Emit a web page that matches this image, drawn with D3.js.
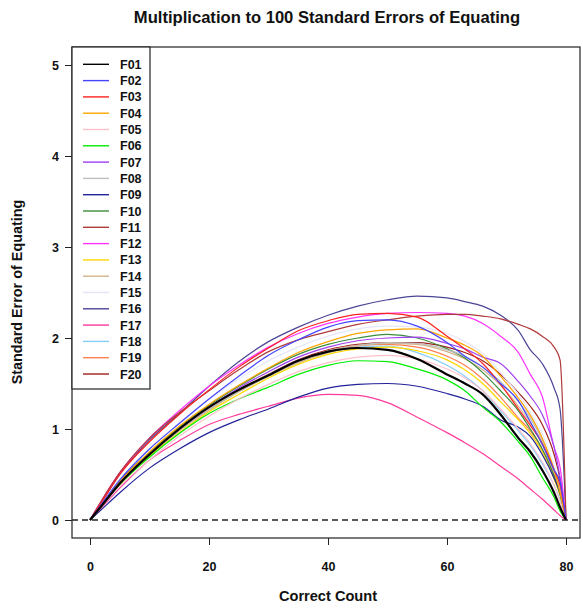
<!DOCTYPE html>
<html lang="en">
<head>
<meta charset="UTF-8" />
<title>Multiplication to 100 Standard Errors of Equating</title>
<script src="https://cdn.jsdelivr.net/npm/d3@7"></script>
<style>
    body { margin: 0; background: #fff; }
    svg text { font-family: "Liberation Sans", Arial, sans-serif; font-weight: bold; fill: #111; }
</style>
</head>
<body>
<svg id="chart" width="583" height="608"></svg>
<script>
    // correct counts at which the curves were read
    const counts = [0, 2, 5, 10, 15, 20, 25, 30, 35, 40, 45, 50, 55, 60, 63, 66, 69, 72, 74, 76, 78, 79, 80];

    const formNames = ["F01","F02","F03","F04","F05","F06","F07","F08","F09","F10",
                       "F11","F12","F13","F14","F15","F16","F17","F18","F19","F20"];

    const formColors = ["#000000","#4646ff","#ff2020","#ffa500","#ffc0cb","#00ee00","#a040f0","#bebebe","#22229a","#3c8c3c",
                        "#b03a3a","#ff33ff","#ffd700","#d2b48c","#e6e6fa","#4b4596","#ff3c9c","#87cefa","#ff7f50","#a0201c"];

    const F01 = [0,0.16,0.40,0.72,1.00,1.24,1.43,1.59,1.75,1.85,1.89,1.87,1.77,1.60,1.50,1.38,1.16,0.90,0.75,0.55,0.30,0.14,0];
    const F02 = [0,0.18,0.44,0.78,1.06,1.33,1.58,1.81,1.98,2.12,2.19,2.20,2.13,1.95,1.80,1.68,1.50,1.31,1.08,0.83,0.55,0.42,0];
    const F03 = [0,0.20,0.50,0.86,1.16,1.43,1.68,1.89,2.08,2.19,2.26,2.27,2.23,2.02,1.88,1.72,1.49,1.22,1.04,0.84,0.55,0.38,0];
    const F04 = [0,0.17,0.42,0.75,1.03,1.27,1.48,1.67,1.84,1.96,2.05,2.09,2.10,2.00,1.92,1.80,1.58,1.34,1.15,0.90,0.55,0.30,0];
    const F05 = [0,0.15,0.37,0.66,0.92,1.14,1.33,1.49,1.63,1.73,1.79,1.81,1.77,1.66,1.56,1.42,1.22,1.00,0.84,0.64,0.38,0.20,0];
    const F06 = [0,0.16,0.39,0.69,0.95,1.17,1.33,1.46,1.60,1.70,1.75,1.74,1.66,1.54,1.42,1.24,1.08,0.86,0.70,0.47,0.25,0.10,0];
    const F07 = [0,0.16,0.40,0.72,1.00,1.24,1.45,1.63,1.79,1.90,1.97,2.00,2.01,1.94,1.88,1.79,1.72,1.52,1.36,1.16,0.80,0.47,0];
    const F08 = [0,0.16,0.40,0.72,0.99,1.22,1.42,1.60,1.75,1.86,1.92,1.95,1.94,1.87,1.80,1.68,1.52,1.30,1.12,0.88,0.55,0.32,0];
    const F09 = [0,0.12,0.30,0.57,0.78,0.96,1.10,1.22,1.35,1.45,1.49,1.50,1.47,1.39,1.33,1.25,1.10,1.02,0.92,0.72,0.46,0.30,0];
    const F10 = [0,0.17,0.42,0.74,1.02,1.26,1.47,1.66,1.82,1.93,2.00,2.04,2.00,1.88,1.78,1.62,1.42,1.20,1.00,0.78,0.48,0.28,0];
    const F11 = [0,0.22,0.52,0.90,1.18,1.42,1.65,1.85,1.98,2.07,2.15,2.20,2.24,2.26,2.26,2.24,2.21,2.15,2.10,2.02,1.90,1.76,0];
    const F12 = [0,0.22,0.52,0.90,1.20,1.47,1.70,1.90,2.05,2.16,2.23,2.27,2.28,2.27,2.24,2.16,2.02,1.84,1.60,1.36,0.80,0.58,0];
    const F13 = [0,0.16,0.39,0.70,0.96,1.19,1.38,1.56,1.71,1.82,1.88,1.90,1.86,1.76,1.65,1.50,1.30,1.10,0.95,0.75,0.45,0.27,0];
    const F14 = [0,0.16,0.40,0.71,0.98,1.21,1.41,1.58,1.73,1.84,1.91,1.94,1.93,1.85,1.77,1.65,1.48,1.25,1.07,0.85,0.52,0.30,0];
    const F15 = [0,0.18,0.44,0.78,1.07,1.33,1.55,1.75,1.90,2.02,2.10,2.13,2.12,2.05,1.96,1.83,1.62,1.38,1.18,0.95,0.60,0.36,0];
    const F16 = [0,0.20,0.50,0.88,1.17,1.47,1.74,1.96,2.12,2.25,2.35,2.42,2.46,2.44,2.40,2.35,2.25,2.08,1.87,1.72,1.45,1.22,0];
    const F17 = [0,0.14,0.35,0.66,0.87,1.05,1.16,1.25,1.34,1.38,1.37,1.29,1.13,0.96,0.85,0.73,0.59,0.45,0.34,0.23,0.11,0.05,0];
    const F18 = [0,0.16,0.40,0.71,0.98,1.21,1.41,1.58,1.73,1.84,1.90,1.91,1.84,1.70,1.58,1.42,1.20,0.98,0.82,0.62,0.38,0.22,0];
    const F19 = [0,0.17,0.41,0.73,1.00,1.23,1.43,1.60,1.75,1.86,1.92,1.93,1.90,1.80,1.70,1.55,1.35,1.12,0.98,0.78,0.50,0.30,0];
    const F20 = [0,0.18,0.43,0.74,1.00,1.22,1.42,1.60,1.76,1.87,1.93,1.95,1.95,1.90,1.84,1.75,1.60,1.40,1.25,1.05,0.72,0.45,0];

    const seriesValues = [F01,F02,F03,F04,F05,F06,F07,F08,F09,F10,F11,F12,F13,F14,F15,F16,F17,F18,F19,F20];

    const xTicks = [0, 20, 40, 60, 80];
    const yTicks = [0, 1, 2, 3, 4, 5];

    const svg = d3.select("#chart");
    const box = { left: 72, right: 580, top: 47, bottom: 538 };

    const x = d3.scaleLinear().domain([0, 80]).range([90, 566]);
    const y = d3.scaleLinear().domain([0, 5]).range([520, 65]);

    svg.append("text")
        .attr("x", 327).attr("y", 23)
        .attr("text-anchor", "middle")
        .attr("font-size", "16.6px")
        .text("Multiplication to 100 Standard Errors of Equating");

    // axes (R style, outside the box)
    const xAxis = svg.append("g")
        .attr("transform", `translate(0,${box.bottom})`)
        .call(d3.axisBottom(x).tickValues(xTicks).tickFormat(d3.format("d")).tickSize(7).tickPadding(17));
    const yAxis = svg.append("g")
        .attr("transform", `translate(${box.left},0)`)
        .call(d3.axisLeft(y).tickValues(yTicks).tickFormat(d3.format("d")).tickSize(7).tickPadding(6));
    [xAxis, yAxis].forEach(a => {
        a.select(".domain").remove();
        a.selectAll("line").attr("stroke", "#222");
        a.selectAll("text").attr("font-size", "12.5px").style("font-family", null);
    });

    svg.append("text")
        .attr("x", 328).attr("y", 601)
        .attr("text-anchor", "middle")
        .attr("font-size", "14.6px")
        .text("Correct Count");

    svg.append("text")
        .attr("transform", "translate(22,292) rotate(-90)")
        .attr("text-anchor", "middle")
        .attr("font-size", "14.4px")
        .text("Standard Error of Equating");

    svg.append("defs").append("clipPath").attr("id", "plotclip")
        .append("rect")
        .attr("x", box.left).attr("y", box.top)
        .attr("width", box.right - box.left).attr("height", box.bottom - box.top);

    const plot = svg.append("g").attr("clip-path", "url(#plotclip)");

    plot.append("line")
        .attr("x1", box.left).attr("x2", box.right)
        .attr("y1", y(0)).attr("y2", y(0))
        .attr("stroke", "#222").attr("stroke-width", 1.3)
        .attr("stroke-dasharray", "6,4");

    const line = d3.line()
        .x((d, i) => x(counts[i]))
        .y(d => y(d))
        .curve(d3.curveMonotoneX);

    // draw last series first so F01 (black) ends up on top
    seriesValues.map((vals, i) => ({ vals, i })).reverse().forEach(s => {
        plot.append("path")
            .attr("d", line(s.vals))
            .attr("fill", "none")
            .attr("stroke", formColors[s.i])
            .attr("stroke-width", s.i === 0 ? 2.2 : 1.2);
    });

    svg.append("rect")
        .attr("x", box.left).attr("y", box.top)
        .attr("width", box.right - box.left).attr("height", box.bottom - box.top)
        .attr("fill", "none").attr("stroke", "#222").attr("stroke-width", 1.2);

    // legend
    const legend = svg.append("g");
    legend.append("rect")
        .attr("x", box.left).attr("y", box.top)
        .attr("width", 78).attr("height", 342)
        .attr("fill", "#fff").attr("stroke", "#222").attr("stroke-width", 1.2);

    formNames.forEach((name, i) => {
        const ly = 64.3 + i * 16.3;
        legend.append("line")
            .attr("x1", 83).attr("x2", 109)
            .attr("y1", ly).attr("y2", ly)
            .attr("stroke", formColors[i]).attr("stroke-width", 1.4);
        legend.append("text")
            .attr("x", 120).attr("y", ly)
            .attr("dy", "0.36em")
            .attr("font-size", "12.5px")
            .text(name);
    });
</script>
</body>
</html>
